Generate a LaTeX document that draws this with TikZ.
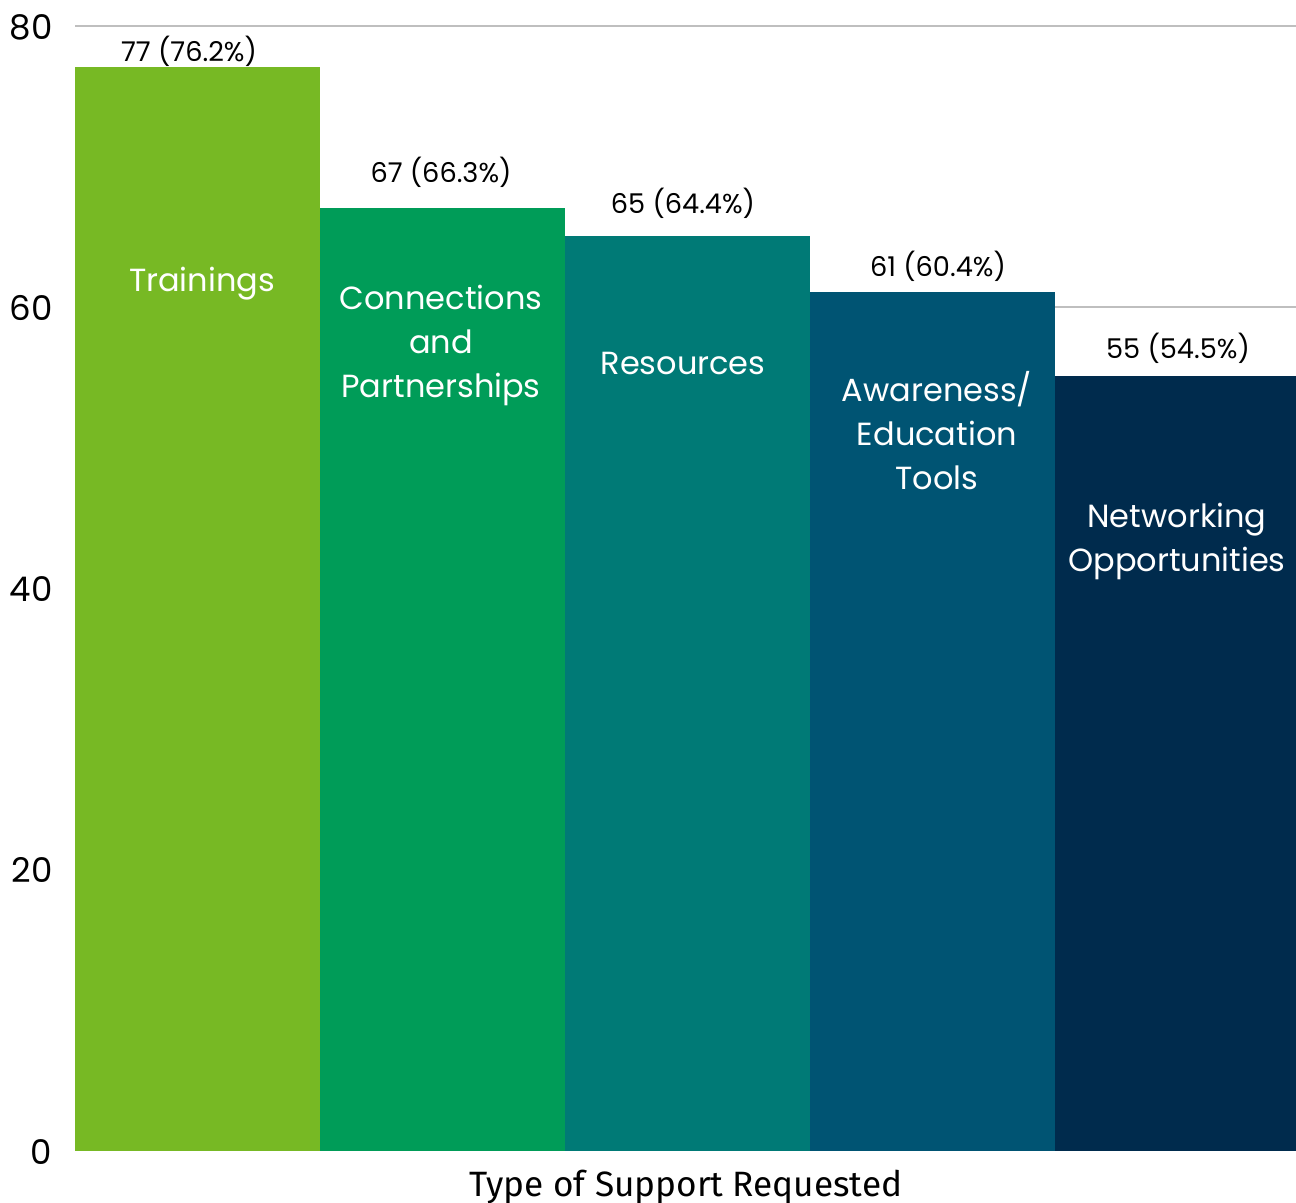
\documentclass[tikz,border=0pt]{standalone}
\usepackage{fontspec}
\setmainfont{Poppins}
\newfontfamily\titlefont{Fira Sans}
\definecolor{cTrain}{HTML}{77B924}
\definecolor{cConn}{HTML}{009C58}
\definecolor{cRes}{HTML}{007A76}
\definecolor{cAware}{HTML}{005473}
\definecolor{cNet}{HTML}{002B4D}
\definecolor{cGrid}{HTML}{BFBFBF}
\begin{document}
\begin{tikzpicture}[x=0.5pt,y=-0.5pt,
  gridline/.style={draw=cGrid,line width=1pt},
  ticklab/.style={anchor=east,inner sep=0pt,font=\fontsize{17}{20}\selectfont},
  vallab/.style={inner sep=0pt,font=\fontsize{13.6}{16}\selectfont},
  barlab/.style={inner sep=0pt,text=white,align=center,font=\fontsize{16}{22}\selectfont},
  axtitle/.style={inner sep=0pt,font=\titlefont\fontsize{17.6}{20}\selectfont}]
\useasboundingbox (0,0) rectangle (1296,1203);
% gridlines
\foreach \v/\yy in {80/26,60/307,40/588,20/869}{
  \draw[gridline] (75,\yy) -- (1296,\yy);
}
% tick labels
\node[ticklab] (t80) at (53,27) {80};
\node[ticklab] (t60) at (53,308) {60};
\node[ticklab] (t40) at (53,589) {40};
\node[ticklab] (t20) at (53,870) {20};
\node[ticklab] (t0) at (52,1152) {0};
% bars
\fill[cTrain] (75,67) rectangle (320,1151);
\fill[cConn] (320,208) rectangle (565,1151);
\fill[cRes] (565,236) rectangle (810,1151);
\fill[cAware] (810,292) rectangle (1055,1151);
\fill[cNet] (1055,376) rectangle (1296,1151);
% value labels
\node[vallab] (v1) at (189,51) {77 (76.2\%)};
\node[vallab] (v2) at (441,172) {67 (66.3\%)};
\node[vallab] (v3) at (683,203) {65 (64.4\%)};
\node[vallab] (v4) at (938,266) {61 (60.4\%)};
\node[vallab] (v5) at (1178,348) {55 (54.5\%)};
% bar labels
\node[barlab] (b1) at (202,284) {Trainings};
\node[barlab] (b2) at (441,345) {Connections\\and\\Partnerships};
\node[barlab] (b3) at (683,363) {Resources};
\node[barlab] (b4) at (937,431) {Awareness/\\Education\\Tools};
\node[barlab] (b5) at (1177,541) {Networking\\Opportunities};
% axis title
\node[axtitle] (xt) at (686,1187) {Type of Support Requested};
\end{tikzpicture}
\end{document}
